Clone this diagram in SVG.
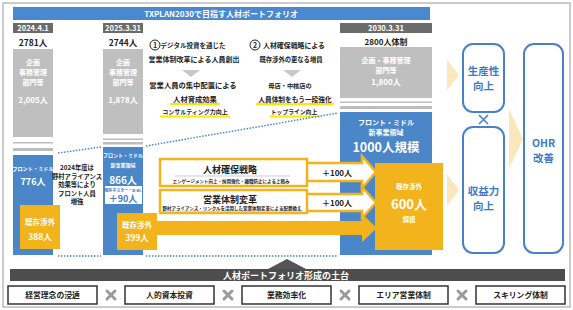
<svg xmlns="http://www.w3.org/2000/svg" width="573" height="310" viewBox="0 0 573 310">
<style>
text{font-family:"Noto Sans CJK JP","Liberation Sans",sans-serif;text-anchor:middle;font-weight:bold}
.w{fill:#fff}
.k{fill:#222}
.bt{fill:#3E7AC6}
.blue{fill:#4A86C8}
.gray{fill:#BFBFBF}
.gl{fill:#BDBDBD}
.date{fill:#6B6B6B}
.or{fill:#F2B31C}
.ol{fill:#fff;stroke:#F2B31C;stroke-width:2.5}
.rb{fill:#fff;stroke:#4A7FC9;stroke-width:2}
.dot{stroke:#4A86C8;stroke-width:1.5;stroke-dasharray:1.5 1.5;fill:none}
.chev{fill:#FBE7BC}
.hl{fill:#FFE800}
.fb{fill:#fff;stroke:#333;stroke-width:1.5}
.x{stroke:#9A9A9A;stroke-width:3;stroke-linecap:round}
</style>
<rect x="3" y="3" width="567" height="304" fill="#fff" stroke="#BBBBBB" stroke-width="1.5"/>

<g id="title">
<rect x="13" y="7" width="417" height="13" fill="#4A89CF"/>
<text x="221" y="17" class="w" font-size="8">TXPLAN2030で目指す人材ポートフォリオ</text>
</g>

<g id="col2024">
<rect x="13" y="23" width="40" height="10" class="date"/>
<text x="33" y="31" class="w" font-size="7.5" font-weight="normal">2024.4.1</text>
<text x="33" y="46" class="k" font-size="8.5" font-weight="normal">2781人</text>
<rect x="13" y="49" width="40" height="88" class="gray"/>
<text x="33" y="65" class="w" font-size="7">企画</text>
<text x="33" y="75" class="w" font-size="7">事務管理</text>
<text x="33" y="85" class="w" font-size="7">部門等</text>
<text x="33" y="103" class="w" font-size="8">2,005人</text>
<rect x="13" y="142" width="40" height="1.5" class="gl"/>
<rect x="13" y="148" width="40" height="3" class="gl"/>
<rect x="13" y="155" width="40" height="100" class="blue"/>
<text x="33" y="171" class="w" font-size="5.2">フロント・ミドル</text>
<text x="33" y="185" class="w" font-size="9">776人</text>
<rect x="20" y="205" width="40" height="44" class="or"/>
<text x="40" y="225" class="w" font-size="7.5">既存渉外</text>
<text x="40" y="240" class="w" font-size="8.5">388人</text>
</g>

<g id="note2024">
<text x="77" y="170" class="k" font-size="6.3" font-weight="normal">2024年度は</text>
<text x="77" y="178.5" class="k" font-size="6.3" font-weight="normal">野村アライアンス</text>
<text x="77" y="187" class="k" font-size="6.3" font-weight="normal">効果等により</text>
<text x="77" y="195.5" class="k" font-size="6.3" font-weight="normal">フロント人員</text>
<text x="77" y="204" class="k" font-size="6.3" font-weight="normal">増強</text>
</g>

<g id="col2025">
<rect x="103" y="23" width="40" height="10" class="date"/>
<text x="123" y="31" class="w" font-size="7.5" font-weight="normal">2025.3.31</text>
<text x="123" y="46" class="k" font-size="8.5" font-weight="normal">2744人</text>
<rect x="103" y="49" width="40" height="85" class="gray"/>
<text x="123" y="65" class="w" font-size="7">企画</text>
<text x="123" y="75" class="w" font-size="7">事務管理</text>
<text x="123" y="85" class="w" font-size="7">部門等</text>
<text x="123" y="103" class="w" font-size="8">1,878人</text>
<rect x="103" y="138.5" width="40" height="1.5" class="gl"/>
<rect x="103" y="142" width="40" height="2.5" class="gl"/>
<rect x="103" y="147" width="40" height="108" class="blue"/>
<text x="123" y="157" class="w" font-size="5">フロント・ミドル</text>
<text x="123" y="167" class="w" font-size="5">新事業領域</text>
<text x="123" y="184" class="w" font-size="10">866人</text>
<rect x="105" y="186" width="37" height="18" fill="#fff"/>
<text x="123" y="191.5" class="bt" font-size="4">既存ネスター・B-BL</text>
<text x="123" y="202" class="bt" font-size="9">＋90人</text>
</g>

<g id="middle">
<circle cx="155" cy="45" r="5" fill="none" stroke="#222" stroke-width="1"/>
<text x="155" y="48" class="k" font-size="7">1</text>
<text x="193" y="48" class="k" font-size="6.5">デジタル投資を通じた</text>
<text x="194" y="62" class="k" font-size="7">営業体制改革による人員創出</text>
<polygon points="182,70 200,70 191,77" fill="#C8C8C8"/>
<text x="193" y="88" class="k" font-size="7.3">営業人員の集中配置による</text>
<rect x="170" y="103" width="50" height="2" class="hl"/>
<text x="195" y="102" class="k" font-size="7.3">人材育成効果</text>
<rect x="160" y="115.5" width="70" height="2" class="hl"/>
<text x="195" y="114" class="k" font-size="6">コンサルティング力向上</text>

<circle cx="255" cy="45" r="5" fill="none" stroke="#222" stroke-width="1"/>
<text x="255" y="48" class="k" font-size="7">2</text>
<text x="294" y="48" class="k" font-size="6.9">人材確保戦略による</text>
<text x="291" y="62" class="k" font-size="6.3">既存渉外の更なる増員</text>
<polygon points="283,70 301,70 292,77" fill="#C8C8C8"/>
<text x="290" y="88" class="k" font-size="6.2">母店・中核店の</text>
<rect x="256" y="103" width="78" height="2" class="hl"/>
<text x="295" y="102" class="k" font-size="6.7">人員体制をもう一段強化</text>
<rect x="270" y="115.5" width="50" height="2" class="hl"/>
<text x="294" y="114" class="k" font-size="5.8">トップライン向上</text>
</g>

<g id="col2030">
<rect x="340" y="23" width="92" height="10" class="date"/>
<text x="386" y="31" class="w" font-size="7.5" font-weight="normal">2030.3.31</text>
<text x="386" y="45" class="k" font-size="8">2800人体制</text>
<rect x="340" y="47" width="92" height="51" class="gray"/>
<text x="386" y="63" class="w" font-size="7">企画・事務管理</text>
<text x="386" y="73" class="w" font-size="7">部門等</text>
<text x="386" y="85" class="w" font-size="8">1,800人</text>
<rect x="340" y="101.5" width="92" height="1.5" class="gl"/>
<rect x="340" y="106" width="92" height="3" class="gl"/>
<rect x="340" y="112" width="92" height="143" class="blue"/>
<text x="386" y="125" class="w" font-size="7">フロント・ミドル</text>
<text x="386" y="135" class="w" font-size="7">新事業領域</text>
<text x="386" y="152" class="w" font-size="12.5">1000人規模</text>
<rect x="375" y="163" width="68" height="87" class="or"/>
<text x="409" y="189" class="w" font-size="6.5">既存渉外</text>
<text x="409" y="209" class="w" font-size="13">600人</text>
<text x="409" y="222" class="w" font-size="6.5">規模</text>
</g>

<g id="connectors">
<path class="dot" d="M58,153 L101,147"/>
<path class="dot" d="M58,256 L101,256"/>
<path class="dot" d="M146,146 L338,113"/>
<path class="dot" d="M146,256 L338,256"/>
</g>

<g id="arrow1">
<path class="ol" d="M307,163 H362 V156 L376,172 L362,188 V181 H307"/>
<rect x="160" y="159" width="147" height="27" class="ol"/>
<text x="230" y="173" class="k" font-size="9" font-weight="normal">人材確保戦略</text>
<line x1="175" y1="176" x2="290" y2="176" stroke="#999" stroke-width="0.5"/>
<text x="231" y="182.5" class="k" font-size="4.5" font-weight="normal">エンゲージメント向上・採用強化・離職防止による上積み</text>
<text x="337" y="176" class="k" font-size="8">＋100人</text>
</g>

<g id="arrow2">
<path class="ol" d="M307,194 H362 V187 L376,202.5 L362,218 V211 H307"/>
<rect x="160" y="190" width="147" height="23" class="ol"/>
<text x="230" y="203" class="k" font-size="9" font-weight="normal">営業体制変革</text>
<line x1="162" y1="211" x2="303" y2="211" stroke="#999" stroke-width="0.5"/>
<text x="232" y="210" class="k" font-size="4.5" font-weight="normal">野村アライアンス・リンクルを活用した営業体制変革による配置換え</text>
<text x="337" y="206" class="k" font-size="8">＋100人</text>
</g>

<g id="arrow3">
<polygon class="or" points="150,221 362,221 362,214 377,228 362,242 362,235 150,235"/>
<rect x="117" y="213" width="40" height="37" class="or"/>
<text x="137" y="228" class="w" font-size="7.5">既存渉外</text>
<text x="137" y="241" class="w" font-size="8.5">399人</text>
</g>

<g id="chevrons">
<polygon class="chev" points="447,60 459,75 447,90"/>
<polygon class="chev" points="447,174 459,190 447,206"/>
<polygon class="chev" points="509,109 523,139 509,169"/>
</g>

<g id="productivity">
<rect x="463" y="44" width="41" height="68" rx="10" class="rb"/>
<text x="483.5" y="75" class="bt" font-size="10.5">生産性</text>
<text x="483.5" y="90" class="bt" font-size="10.5">向上</text>
</g>
<path d="M479,115 L488,124 M488,115 L479,124" stroke="#4A7FC9" stroke-width="1.6"/>
<g id="revenue">
<rect x="463" y="127" width="41" height="126" rx="10" class="rb"/>
<text x="483.5" y="195" class="bt" font-size="10.5">収益力</text>
<text x="483.5" y="210" class="bt" font-size="10.5">向上</text>
</g>
<g id="ohr">
<rect x="524" y="44" width="39" height="209" rx="10" class="rb"/>
<text x="543.5" y="147" class="bt" font-size="10.5">OHR</text>
<text x="543.5" y="162" class="bt" font-size="10.5">改善</text>
</g>

<g id="foundation">
<polygon points="268,269 306,269 287,259" fill="#555"/>
<rect x="10" y="269" width="555" height="12" fill="#4D4D4D"/>
<text x="286" y="278.5" class="w" font-size="9">人材ポートフォリオ形成の土台</text>
</g>

<g id="base1"><rect x="8" y="286" width="89" height="18" class="fb"/><text x="52.5" y="298" class="k" font-size="7.8">経営理念の浸透</text></g>
<g id="base2"><rect x="125" y="286" width="89" height="18" class="fb"/><text x="169.5" y="298" class="k" font-size="7.8">人的資本投資</text></g>
<g id="base3"><rect x="242" y="286" width="89" height="18" class="fb"/><text x="286.5" y="298" class="k" font-size="7.8">業務効率化</text></g>
<g id="base4"><rect x="359" y="286" width="89" height="18" class="fb"/><text x="403.5" y="298" class="k" font-size="7.8">エリア営業体制</text></g>
<g id="base5"><rect x="476" y="286" width="89" height="18" class="fb"/><text x="520.5" y="298" class="k" font-size="7.8">スキリング体制</text></g>
<g id="times">
<path class="x" d="M107,291 L115,299 M115,291 L107,299"/>
<path class="x" d="M224,291 L232,299 M232,291 L224,299"/>
<path class="x" d="M341,291 L349,299 M349,291 L341,299"/>
<path class="x" d="M458,291 L466,299 M466,291 L458,299"/>
</g>
</svg>
